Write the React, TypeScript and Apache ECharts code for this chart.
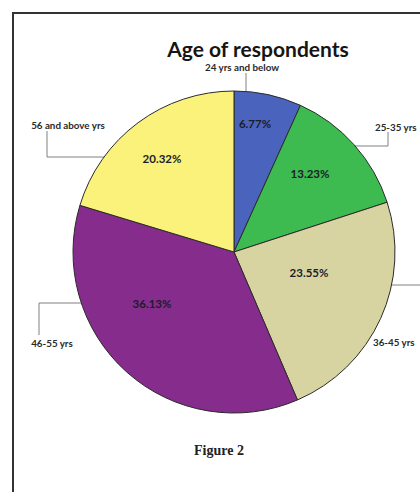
import React, { useEffect, useRef } from "react";
import * as echarts from "echarts";

// Age groups of the survey respondents and their shares (%)
const categories = [
  "24 yrs and below",
  "25-35 yrs",
  "36-45 yrs",
  "46-55 yrs",
  "56 and above yrs",
];
const shares = [6.77, 13.23, 23.55, 36.13, 20.32];
const sliceColors = ["#4a64bd", "#3dbb50", "#d8d4a2", "#862c8c", "#faf27a"];

// Label placement (px) for the percentage text inside each slice
const pctPos: [number, number][] = [
  [255, 123],
  [310, 173],
  [309, 272],
  [152, 303],
  [162, 158],
];
// Category label anchor, alignment and elbow leader line
const namePos: { x: number; y: number; align: string; line: [number, number][] }[] = [
  { x: 242, y: 67, align: "center", line: [[246, 108], [246, 90], [246, 73]] },
  { x: 375, y: 127, align: "left", line: [[325, 146], [388, 146], [388, 132]] },
  { x: 373, y: 342, align: "left", line: [[325, 285], [421, 285], [421, 335]] },
  { x: 52, y: 343, align: "center", line: [[123, 303], [39, 303], [39, 335]] },
  { x: 68, y: 125, align: "center", line: [[132, 157], [47, 157], [47, 131]] },
];

export default function App() {
  const ref = useRef<HTMLDivElement>(null);

  useEffect(() => {
    if (!ref.current) return;
    const chart = echarts.init(ref.current, null, { renderer: "svg" });
    const data = categories.map((name, i) => ({
      name,
      value: shares[i],
      itemStyle: { color: sliceColors[i] },
    }));

    chart.setOption({
      animation: false,
      backgroundColor: "#ffffff",
      title: [
        {
          text: "Age of respondents",
          left: 253,
          top: 33,
          textAlign: "center",
          textStyle: {
            fontFamily: "Lato",
            fontWeight: "bold",
            fontSize: 21,
            color: "#151515",
          },
        },
        {
          text: "Figure 2",
          left: 214,
          top: 438,
          textAlign: "center",
          textStyle: {
            fontFamily: "Liberation Serif",
            fontWeight: "bold",
            fontSize: 14,
            color: "#222",
          },
        },
      ],
      graphic: [
        {
          type: "rect",
          shape: { x: 13, y: 13, width: 430, height: 500 },
          style: { fill: "none", stroke: "#333", lineWidth: 2 },
          silent: true,
        },
      ],
      series: [
        {
          type: "pie",
          center: [234, 252],
          radius: 161,
          startAngle: 90,
          clockwise: true,
          avoidLabelOverlap: false,
          itemStyle: { borderColor: "#2b2b2b", borderWidth: 1 },
          data,
          label: {
            show: true,
            position: "inside",
            formatter: (p: any) => `${p.value.toFixed(2)}%`,
            fontFamily: "Lato",
            fontWeight: "bold",
            fontSize: 11.5,
            color: "#1c1c2a",
          },
          labelLine: { show: false },
          labelLayout: (p: any) => ({
            x: pctPos[p.dataIndex][0],
            y: pctPos[p.dataIndex][1],
            align: "center",
            verticalAlign: "middle",
          }),
          emphasis: { disabled: true },
        },
        {
          type: "pie",
          center: [234, 252],
          radius: 161,
          startAngle: 90,
          clockwise: true,
          silent: true,
          avoidLabelOverlap: false,
          itemStyle: { color: "transparent", borderWidth: 0 },
          data: categories.map((name, i) => ({ name, value: shares[i] })),
          label: {
            show: true,
            position: "outside",
            formatter: "{b}",
            fontFamily: "Lato",
            fontWeight: "bold",
            fontSize: 9.8,
            color: "#2a2a2a",
          },
          labelLine: {
            show: true,
            lineStyle: { color: "#808080", width: 1 },
          },
          labelLayout: (p: any) => {
            const n = namePos[p.dataIndex];
            return {
              x: n.x,
              y: n.y,
              align: n.align,
              verticalAlign: "middle",
              labelLinePoints: n.line,
            };
          },
          emphasis: { disabled: true },
        },
      ],
    });

    return () => chart.dispose();
  }, []);

  return (
    <div
      ref={ref}
      style={{
        position: "fixed",
        left: 0,
        top: 0,
        width: 420,
        height: 492,
        background: "#fff",
      }}
    />
  );
}
